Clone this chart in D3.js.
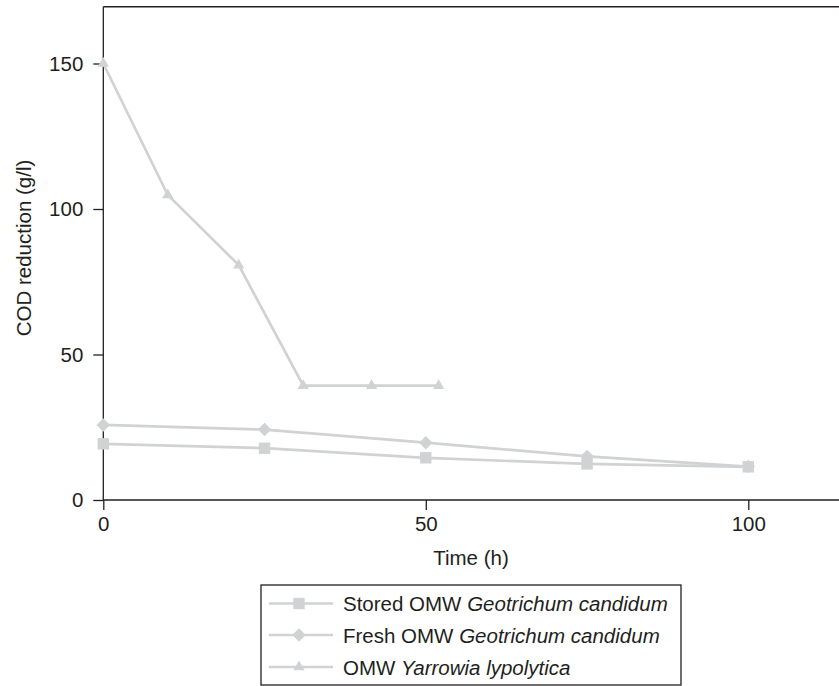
<!DOCTYPE html>
<html><head><meta charset="utf-8">
<script src="https://cdn.jsdelivr.net/npm/d3@7"></script>
<style>body{margin:0;background:#fff}svg{display:block}text{font-family:"Liberation Sans",Arial,sans-serif;fill:#231f20}</style>
</head><body><svg id="c" width="839" height="686"></svg>
<script>
const storedX = [0, 25, 50, 75, 100];
const storedY = [19.3, 17.8, 14.5, 12.4, 11.4];
const freshX = [0, 25, 50, 75, 100];
const freshY = [25.8, 24.2, 19.7, 15.0, 11.5];
const yarrowiaX = [0, 10, 21, 31, 41.6, 52];
const yarrowiaY = [150, 104.8, 80.7, 39.3, 39.3, 39.3];
const xTicks = [0, 50, 100];
const yTicks = [0, 50, 100, 150];
const seriesNames = ["Stored OMW ", "Fresh OMW ", "OMW "];
const seriesItalic = ["Geotrichum candidum", "Geotrichum candidum", "Yarrowia lypolytica"];
const seriesSymbols = ["square", "diamond", "triangle"];

const svg = d3.select("#c");
const x = d3.scaleLinear().domain([0, 100]).range([103.3, 748.3]);
const y = d3.scaleLinear().domain([0, 150]).range([500, 63.5]);
const col = "#d1d2d4", axisCol = "#231f20";
const FS = 20.5;

svg.append("line").attr("x1", x(0)).attr("x2", 845).attr("y1", y(169.5)).attr("y2", y(169.5))
  .attr("stroke", axisCol).attr("stroke-width", 1.3);

const xa = svg.append("g").attr("transform", `translate(0,${y(0)})`)
  .call(d3.axisBottom(x).tickValues(xTicks).tickSize(10).tickPadding(6).tickSizeOuter(0));
xa.select(".domain").remove();
xa.append("line").attr("x1", x(0)).attr("x2", 845).attr("stroke", axisCol).attr("stroke-width", 1.3);
const ya = svg.append("g").attr("transform", `translate(${x(0)},0)`)
  .call(d3.axisLeft(y).tickValues(yTicks).tickSize(10).tickPadding(10).tickSizeOuter(0));
ya.select(".domain").remove();
ya.append("line").attr("y1", y(0)).attr("y2", y(169.5)).attr("stroke", axisCol).attr("stroke-width", 1.3);
svg.selectAll(".tick line").attr("stroke", axisCol).attr("stroke-width", 1.3);
svg.selectAll(".tick text").attr("font-size", FS).attr("fill", axisCol)
  .style("font-family", '"Liberation Sans",Arial,sans-serif');

svg.append("text").attr("x", 471).attr("y", 565).attr("text-anchor", "middle").attr("font-size", FS).text("Time (h)");
svg.append("text").attr("transform", "translate(31,248) rotate(-90)").attr("text-anchor", "middle")
  .attr("font-size", FS).text("COD reduction (g/l)");

const diamondSym = { draw(ctx, size) { const r = Math.sqrt(size / 2); ctx.moveTo(0, -r); ctx.lineTo(r, 0); ctx.lineTo(0, r); ctx.lineTo(-r, 0); ctx.closePath(); } };
const symMap = {square: d3.symbolSquare, diamond: diamondSym, triangle: d3.symbolTriangle};
const symSize = {square: 130, diamond: 90, triangle: 55};
const series = [
  {xs: storedX, ys: storedY, sym: "square"},
  {xs: freshX, ys: freshY, sym: "diamond"},
  {xs: yarrowiaX, ys: yarrowiaY, sym: "triangle"}
];
const line = d3.line().x(d => x(d[0])).y(d => y(d[1]));
series.forEach(s => {
  const pts = s.xs.map((v, i) => [v, s.ys[i]]);
  svg.append("path").attr("d", line(pts)).attr("fill", "none").attr("stroke", col).attr("stroke-width", 2.7);
  svg.selectAll(null).data(pts).enter().append("path")
    .attr("transform", d => `translate(${x(d[0])},${y(d[1])})`)
    .attr("d", d3.symbol().type(symMap[s.sym]).size(symSize[s.sym])).attr("fill", col);
});

const lg = svg.append("g");
lg.append("rect").attr("x", 261).attr("y", 585).attr("width", 420).attr("height", 100)
  .attr("fill", "none").attr("stroke", axisCol).attr("stroke-width", 1.3);
const rowY = [603.5, 635, 667];
seriesNames.forEach((n, i) => {
  const cy = rowY[i];
  lg.append("line").attr("x1", 269).attr("x2", 333).attr("y1", cy).attr("y2", cy).attr("stroke", col).attr("stroke-width", 2.7);
  lg.append("path").attr("transform", `translate(299,${cy})`)
    .attr("d", d3.symbol().type(symMap[seriesSymbols[i]]).size(symSize[seriesSymbols[i]])).attr("fill", col);
  const t = lg.append("text").attr("x", 343).attr("y", cy + 7.5).attr("font-size", FS);
  t.append("tspan").text(n);
  t.append("tspan").attr("font-style", "italic").text(seriesItalic[i]);
});
</script></body></html>
